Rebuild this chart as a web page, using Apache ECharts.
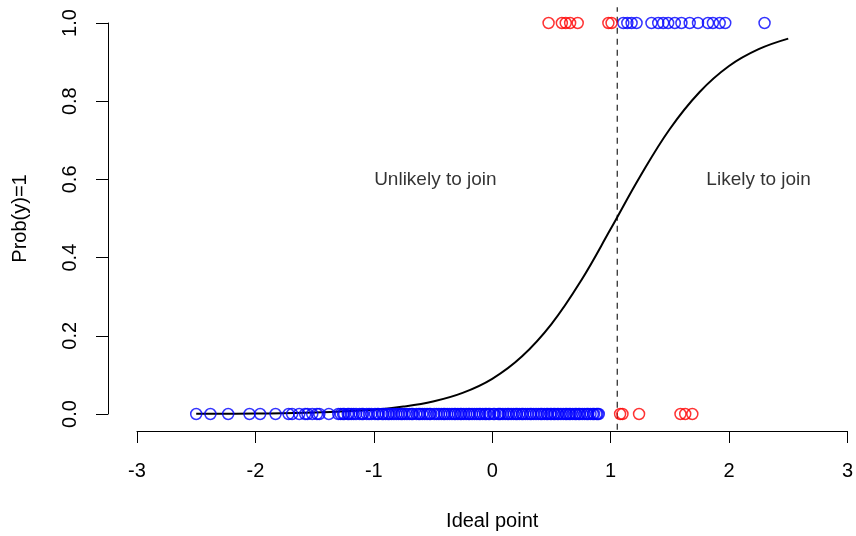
<!DOCTYPE html>
<html>
<head>
<meta charset="utf-8">
<script src="https://cdn.jsdelivr.net/npm/echarts@6/dist/echarts.min.js"></script>
<style>html,body{margin:0;padding:0;background:#fff;}#c{width:856px;height:536px;}</style>
</head>
<body>
<div id="c"></div>
<script>
// Ideal points of observations with y = 1 (top row)
var redTop = [0.476, 0.588, 0.621, 0.658, 0.722, 0.981, 1.008];
var blueTop = [1.107, 1.141, 1.177, 1.219, 1.345, 1.402, 1.444, 1.486, 1.542, 1.598, 1.668, 1.738, 1.822, 1.864, 1.921, 1.968, 2.30];
// Ideal points of observations with y = 0 (bottom row)
var redBottom = [1.08, 1.10, 1.24, 1.59, 1.63, 1.69];
var blueBottom = [-2.50, -2.38, -2.23, -2.05, -1.96, -1.83, -1.72, -1.69, -1.63, -1.58, -1.56, -1.52, -1.48, -1.46, -1.38,
  -1.30, -1.28, -1.26, -1.25, -1.22, -1.21, -1.19, -1.17, -1.15, -1.12, -1.10, -1.09, -1.06, -1.04, -1.02, -0.99, -0.97,
  -0.96, -0.93, -0.92, -0.90, -0.88, -0.87, -0.85, -0.83, -0.81, -0.79, -0.77, -0.76, -0.74, -0.72, -0.70, -0.68, -0.67,
  -0.64, -0.62, -0.61, -0.59, -0.57, -0.55, -0.53, -0.52, -0.49, -0.47, -0.45, -0.43, -0.41, -0.40, -0.38, -0.36, -0.34,
  -0.32, -0.31, -0.29, -0.27, -0.26, -0.24, -0.22, -0.20, -0.19, -0.17, -0.15, -0.13, -0.11, -0.10, -0.08, -0.06, -0.05,
  -0.03, -0.02, 0.01, 0.02, 0.05, 0.06, 0.07, 0.09, 0.11, 0.13, 0.14, 0.16, 0.18, 0.20, 0.21, 0.23, 0.25, 0.26, 0.28,
  0.30, 0.32, 0.33, 0.35, 0.37, 0.39, 0.41, 0.42, 0.44, 0.46, 0.47, 0.49, 0.50, 0.52, 0.53, 0.55, 0.56, 0.58, 0.60, 0.62,
  0.63, 0.65, 0.66, 0.68, 0.70, 0.71, 0.73, 0.74, 0.76, 0.78, 0.80, 0.81, 0.83, 0.85, 0.86, 0.88, 0.89, 0.90];
// Fitted probability curve
var curveX = [-2.5, -2.0, -1.5, -1.0, -0.75, -0.5, -0.25, 0.0, 0.25, 0.5, 0.75, 1.0, 1.25, 1.5, 1.75, 2.0, 2.25, 2.5];
var curveY = [0.0004, 0.0012, 0.0037, 0.011, 0.019, 0.032, 0.054, 0.090, 0.147, 0.230, 0.341, 0.473, 0.608, 0.729, 0.823, 0.890, 0.933, 0.960];
// Threshold (dashed vertical line) and its extent
var thresholdX = [1.056, 1.056];
var thresholdY = [-0.04, 1.04];
// Annotations
var annoText = ['Unlikely to join', 'Likely to join'];
var annoX = [-0.48, 2.25];
var annoY = [0.6, 0.6];
// Ticks
var xTicks = [-3, -2, -1, 0, 1, 2, 3];
var yTicks = ['0.0', '0.2', '0.4', '0.6', '0.8', '1.0'];

function pts(xs, y) { return xs.map(function (x) { return [x, y]; }); }
var curve = curveX.map(function (x, i) { return [x, curveY[i]]; });
var thresh = thresholdX.map(function (x, i) { return [x, thresholdY[i]]; });
var anno = annoX.map(function (x, i) { return [x, annoY[i], annoText[i]]; });

var font = 'Liberation Sans, Arial, Helvetica, sans-serif';
var circleStyle = function (c) {
  return { color: 'rgba(0,0,0,0)', borderColor: c, borderWidth: 1.5 };
};

var chart = echarts.init(document.getElementById('c'), null, { renderer: 'canvas' });
chart.setOption({
  animation: false,
  backgroundColor: '#ffffff',
  grid: { left: 137, right: 3, top: 23, bottom: 121, containLabel: false },
  xAxis: {
    type: 'value', min: -3, max: 3, interval: 1, offset: 17,
    name: 'Ideal point', nameLocation: 'middle', nameGap: 80,
    nameTextStyle: { fontFamily: font, fontSize: 20, color: '#000' },
    axisLine: { show: true, onZero: false, lineStyle: { color: '#000', width: 1 } },
    axisTick: { show: true, length: 12, lineStyle: { color: '#000' } },
    axisLabel: { margin: 30, fontFamily: font, fontSize: 20, color: '#000',
      formatter: function (v) { return xTicks.indexOf(v) >= 0 ? String(v) : ''; } },
    splitLine: { show: false }
  },
  yAxis: {
    type: 'value', min: 0, max: 1, interval: 0.2, offset: 29,
    name: 'Prob(y)=1', nameLocation: 'middle', nameGap: 78,
    nameTextStyle: { fontFamily: font, fontSize: 20, color: '#000' },
    axisLine: { show: true, onZero: false, lineStyle: { color: '#000', width: 1 } },
    axisTick: { show: true, length: 12, lineStyle: { color: '#000' } },
    axisLabel: { margin: 28, rotate: 90, fontFamily: font, fontSize: 20, color: '#000',
      formatter: function (v) { return yTicks[Math.round(v * 5)]; } },
    splitLine: { show: false }
  },
  series: [
    {
      type: 'line', data: thresh, showSymbol: false, clip: false, silent: true,
      lineStyle: { type: [6, 5], color: '#222', width: 1.2 }, z: 2
    },
    {
      type: 'line', data: curve, smooth: 0.4, showSymbol: false, clip: false,
      lineStyle: { color: '#000', width: 2 }, z: 3
    },
    { type: 'scatter', data: pts(blueBottom, 0), symbol: 'circle', symbolSize: 11, clip: false, itemStyle: circleStyle('#0000ff'), z: 4 },
    { type: 'scatter', data: pts(blueTop, 1), symbol: 'circle', symbolSize: 11, clip: false, itemStyle: circleStyle('#0000ff'), z: 4 },
    { type: 'scatter', data: pts(redBottom, 0), symbol: 'circle', symbolSize: 11, clip: false, itemStyle: circleStyle('#ff0000'), z: 4 },
    { type: 'scatter', data: pts(redTop, 1), symbol: 'circle', symbolSize: 11, clip: false, itemStyle: circleStyle('#ff0000'), z: 4 },
    {
      type: 'scatter', data: anno, symbolSize: 0, clip: false, silent: true,
      label: { show: true, position: 'inside', formatter: function (p) { return p.data[2]; },
        fontFamily: font, fontSize: 19, color: '#000' }
    }
  ]
});
</script>
</body>
</html>
